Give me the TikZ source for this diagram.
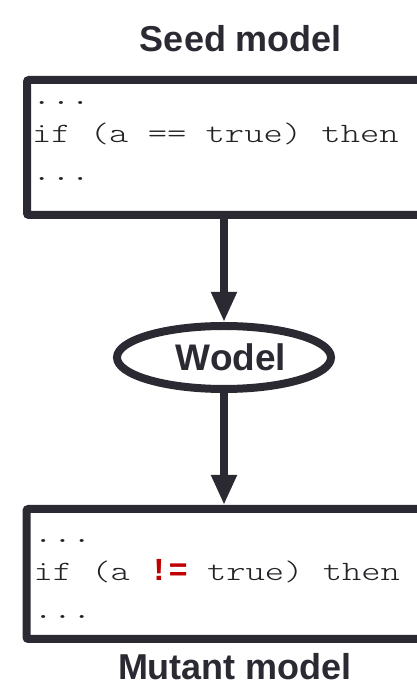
\documentclass[tikz,border=0pt]{standalone}
\usepackage{fontspec}
\setmainfont{Liberation Sans}
\newfontfamily\codefont[FakeStretch=1.313]{Latin Modern Mono Light}
\newfontfamily\boldmono{Liberation Mono}
\newcommand\codegap{\hspace*{19.3pt}}
\usetikzlibrary{shapes.geometric,arrows.meta}
\definecolor{linecol}{RGB}{43,42,51}
\definecolor{codecol}{RGB}{34,34,38}
\definecolor{mutred}{RGB}{192,0,0}
\begin{document}
\begin{tikzpicture}[x=1pt,y=1pt,
    title/.style={font=\bfseries\fontsize{36}{40}\selectfont,text=linecol,anchor=base,inner sep=0pt},
    codebox/.style={draw=linecol,line width=8pt,rounded corners=2pt,fill=white,anchor=north west,
      text=codecol,align=left,text height=0pt,font=\codefont\fontsize{28}{38}\selectfont},
    wodel/.style={ellipse,draw=linecol,line width=8pt,fill=white,inner sep=0pt,
      minimum width=214pt,minimum height=63pt,text=linecol,font=\bfseries\fontsize{37}{40}\selectfont},
    flow/.style={draw=linecol,line width=8pt,-{Triangle[width=24pt,length=30pt]}}]
    \useasboundingbox (0,0) rectangle (417,685);
    \clip (0,0) rectangle (417,685);
    \node[title] (seedt) at (241,633) {Seed model};
    \node[codebox,inner xsep=5pt,text width=450pt,minimum height=135pt,text depth=85pt] (seed) at (23,609)
      {...\\if\codegap(a\codegap==\codegap true)\codegap then\\...};
    \node[wodel] (mut) at (224,327.5) {\hspace*{14pt}Wodel};
    \node[codebox,inner xsep=7pt,text width=450pt,minimum height=130pt,text depth=62pt] (mutant) at (22.5,180)
      {...\\if\codegap(a\codegap{\boldmono\bfseries\fontsize{32}{38}\selectfont\color{mutred}!=}\codegap true)\codegap then\\...};
    \node[title] (mutantt) at (235,5.5) {Mutant model};
    \draw[flow] (seed.south -| mut.north) -- (mut.north);
    \draw[flow] (mut.south) -- (mut.south |- mutant.north);
  \end{tikzpicture}
\end{document}
